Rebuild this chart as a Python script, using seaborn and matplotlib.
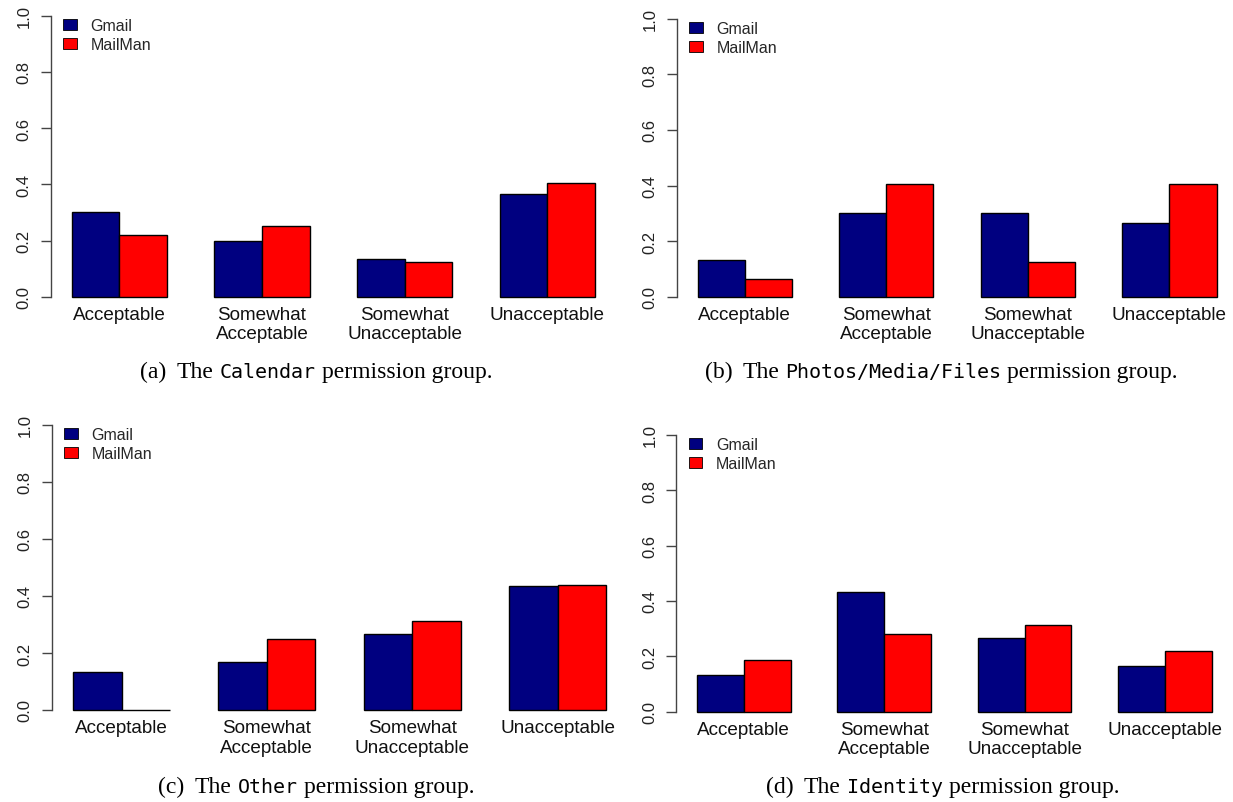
import matplotlib
matplotlib.use("Agg")
import matplotlib.pyplot as plt
from matplotlib.patches import Patch
from matplotlib.offsetbox import TextArea, HPacker, AnchoredOffsetbox
import seaborn as sns
import pandas as pd

# Share of responses per rating, for each app and permission group
ratings = ["Acceptable", "Somewhat\nAcceptable", "Somewhat\nUnacceptable", "Unacceptable"]
apps = ["Gmail", "MailMan"]

calendar_gmail = [9/30, 6/30, 4/30, 11/30]
calendar_mailman = [7/32, 8/32, 4/32, 13/32]

photos_gmail = [4/30, 9/30, 9/30, 8/30]
photos_mailman = [2/32, 13/32, 4/32, 13/32]

other_gmail = [4/30, 5/30, 8/30, 13/30]
other_mailman = [0/32, 8/32, 10/32, 14/32]

identity_gmail = [4/30, 13/30, 8/30, 5/30]
identity_mailman = [6/32, 9/32, 10/32, 7/32]

caption_tags = ["(a)", "(b)", "(c)", "(d)"]
group_names = ["Calendar", "Photos/Media/Files", "Other", "Identity"]
yticks = [0.0, 0.2, 0.4, 0.6, 0.8, 1.0]

colors = ["#000080", "#FF0000"]

sns.set_theme(style="white")
plt.rcParams["font.family"] = ["Liberation Sans", "DejaVu Sans"]

W, H = 1233, 803
fig = plt.figure(figsize=(W / 100, H / 100), dpi=100)

# plot regions in pixels: first bar left, last bar right, y=0 line, y=1 line
regions = [
    (71.7, 595.0, 297.7, 16.7),
    (697.5, 1216.5, 297.7, 19.7),
    (73.1, 606.0, 711.0, 425.7),
    (697.0, 1211.7, 712.7, 435.7),
]
caption_pos = [(316.3, 372.0), (941.3, 372.0), (316.2, 787.0), (942.7, 787.0)]

panels = [
    (calendar_gmail, calendar_mailman),
    (photos_gmail, photos_mailman),
    (other_gmail, other_mailman),
    (identity_gmail, identity_mailman),
]

for i, (g, m) in enumerate(panels):
    xl, xr, y0, y1 = regions[i]
    ex = 0.04 * (xr - xl)
    ey = 0.04 * (y0 - y1)
    l, r, t, b = xl - ex, xr + ex, y1 - ey, y0 + ey
    ax = fig.add_axes([l / W, 1 - b / H, (r - l) / W, (b - t) / H])
    df = pd.DataFrame({
        "rating": ratings * 2,
        "app": [apps[0]] * 4 + [apps[1]] * 4,
        "share": list(g) + list(m),
    })
    sns.barplot(data=df, x="rating", y="share", hue="app", order=ratings,
                hue_order=apps, palette=colors, width=2/3, edgecolor="black",
                linewidth=1.0, errorbar=None, saturation=1, legend=False, ax=ax)
    span = 3 + 2/3
    ax.set_xlim(-1/3 - 0.04 * span, 3 + 1/3 + 0.04 * span)
    ax.set_ylim(-0.04, 1.04)
    ax.set_xlabel("")
    ax.set_ylabel("")
    for s in ["top", "right", "bottom"]:
        ax.spines[s].set_visible(False)
    ax.spines["left"].set_bounds(0, 1)
    ax.spines["left"].set_color("#444444")
    ax.spines["left"].set_linewidth(1.0)
    ax.set_yticks(yticks)
    ax.set_yticklabels([f"{v:.1f}" for v in yticks], rotation=90, va="center",
                       fontsize=12, color="#222222")
    ax.tick_params(axis="y", left=True, length=7.2, width=1.0, color="#444444",
                   pad=6.5, direction="out")
    ax.tick_params(axis="x", bottom=False, length=0, pad=-1.5)
    ax.set_xticks(range(4))
    ax.set_xticklabels(ratings, fontsize=13.6, color="#111111", linespacing=1.2)
    ax.set_facecolor("white")

    # legend in the top-left corner of the plot region
    aw, ah = r - l, b - t
    lx = (xl - ex + 12.5 - l) / aw
    ly = 1 - ((y1 + 8.5 - 6.5) - t) / ah
    handles = [Patch(facecolor=c, edgecolor="black", linewidth=0.6) for c in colors]
    ax.legend(handles, apps, loc="upper left", bbox_to_anchor=(lx, ly),
              frameon=False, fontsize=11.5, handlelength=0.85, handleheight=0.7,
              handletextpad=0.85, labelspacing=0.3, borderaxespad=0,
              borderpad=0)

    # mixed-font caption below the panel
    serif = dict(family="Liberation Serif", size=17, color="black")
    mono = dict(family="DejaVu Sans Mono", size=14.4, color="black")
    body = HPacker(children=[TextArea("The", textprops=serif),
                             TextArea(group_names[i], textprops=mono),
                             TextArea("permission group.", textprops=serif)],
                   align="baseline", pad=0, sep=4.3)
    cap = HPacker(children=[TextArea(caption_tags[i], textprops=serif), body],
                  align="baseline", pad=0, sep=7.5)
    cx, cy = caption_pos[i]
    box = AnchoredOffsetbox(loc="center", child=cap, pad=0, borderpad=0,
                            frameon=False, bbox_to_anchor=(cx / W, 1 - cy / H),
                            bbox_transform=fig.transFigure)
    fig.add_artist(box)

fig.savefig("out.png", dpi=100, facecolor="white")
